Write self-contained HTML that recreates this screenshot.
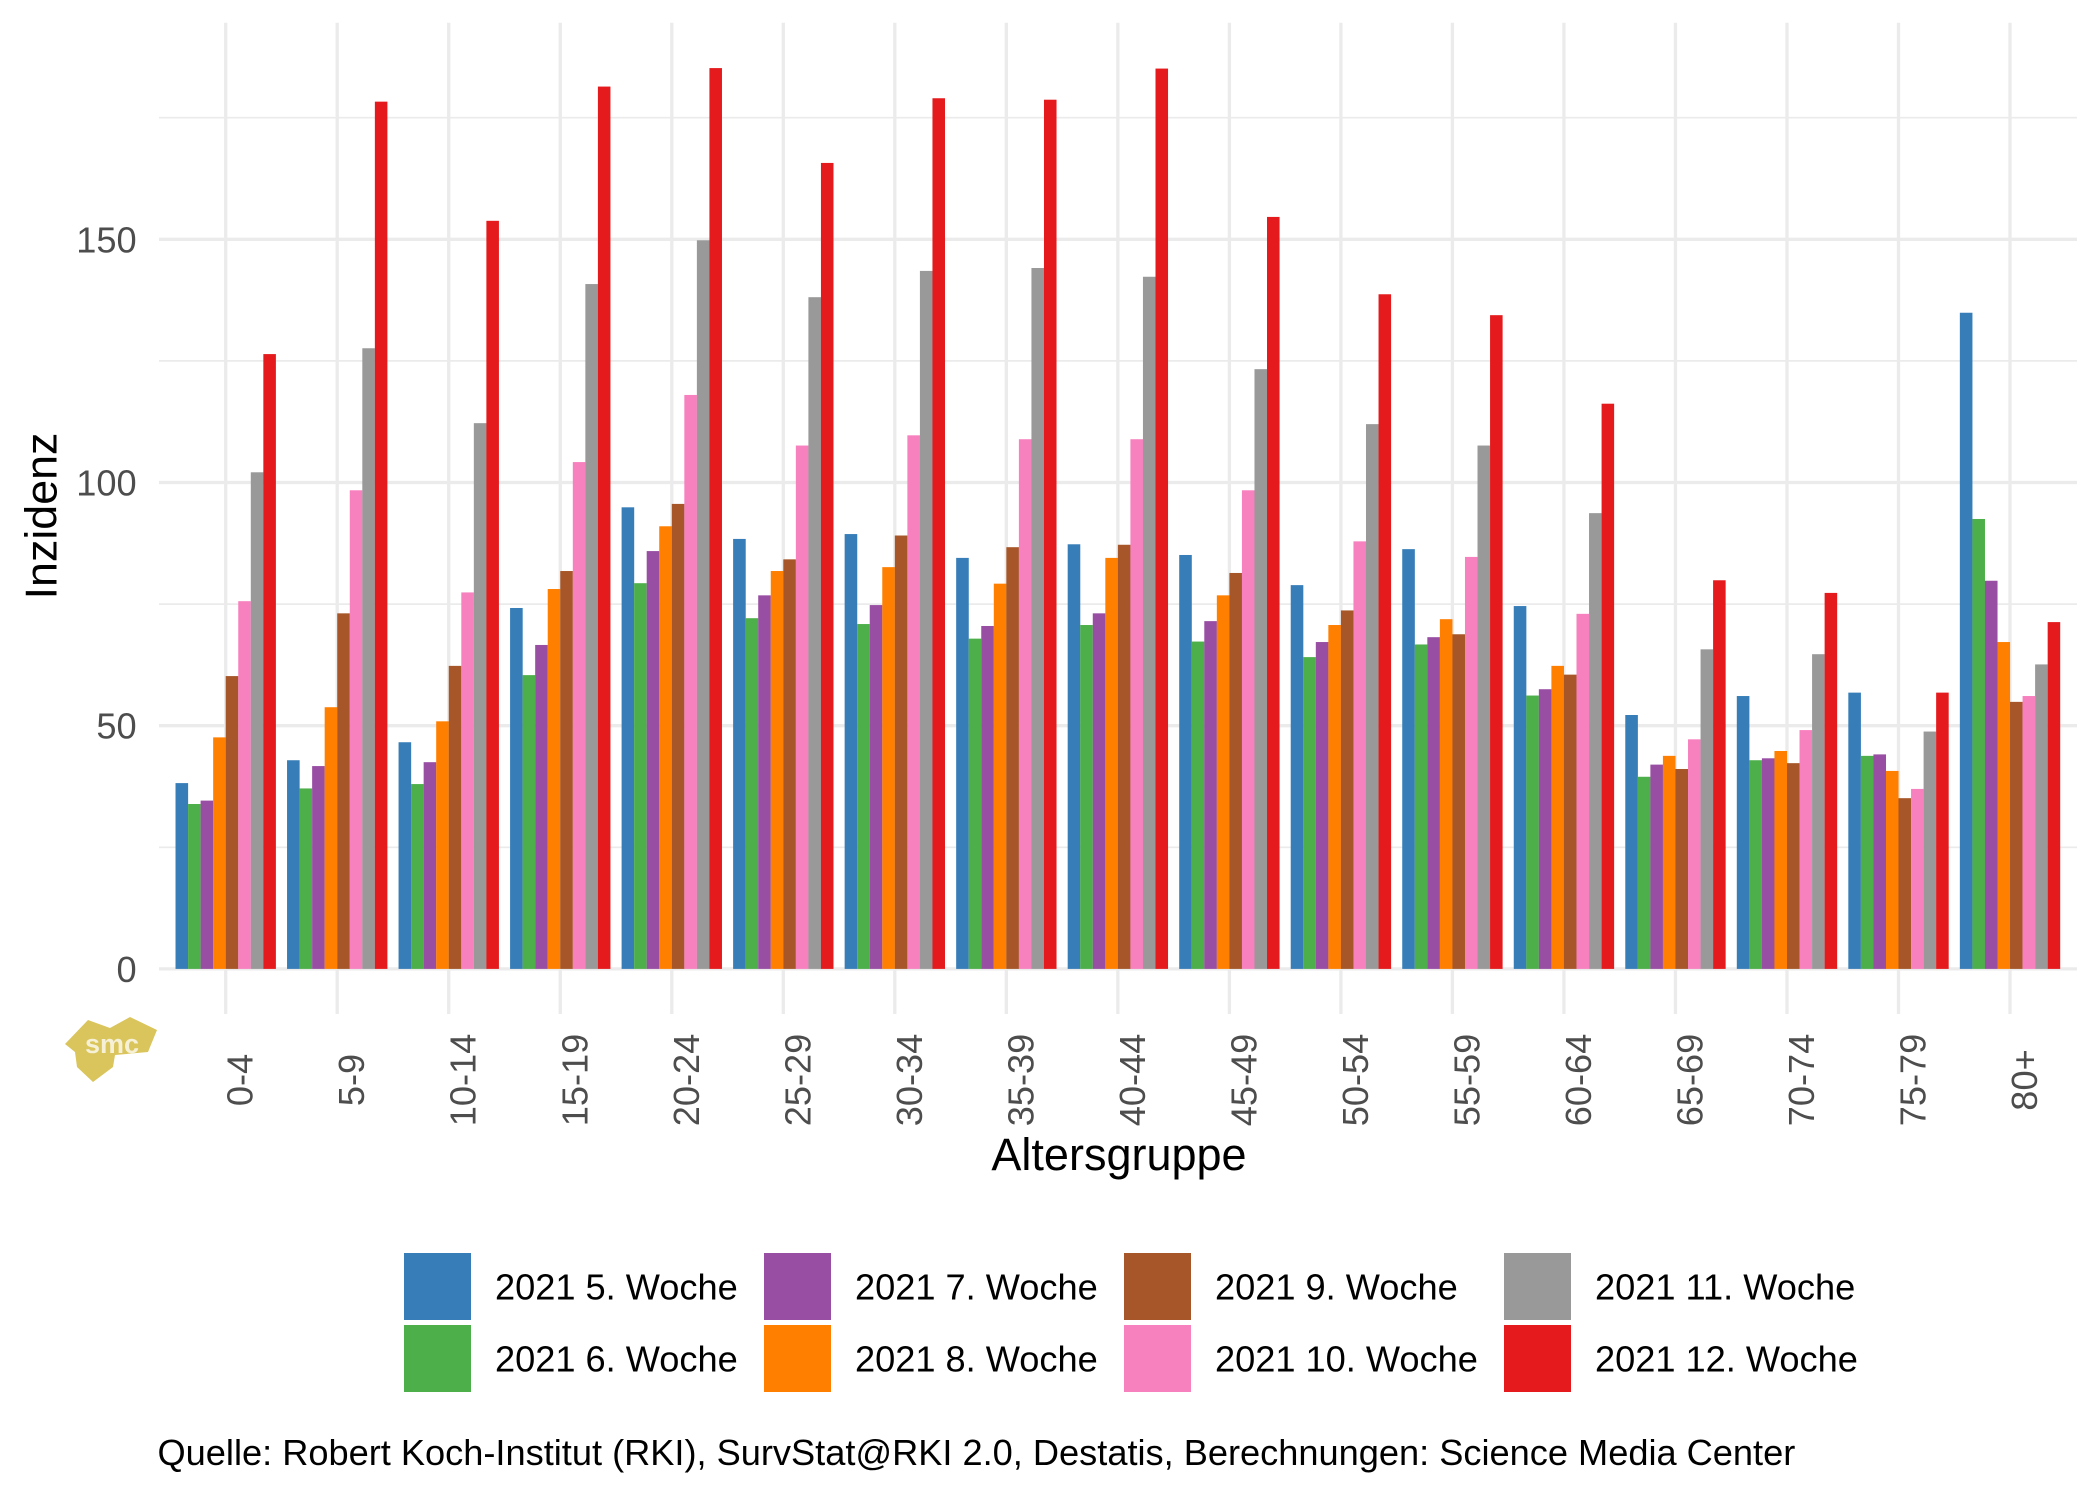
<!DOCTYPE html>
<html>
<head>
<meta charset="utf-8">
<style>
html,body{margin:0;padding:0;background:#fff;}
svg{display:block;}
text{font-family:"Liberation Sans",Arial,sans-serif;}
</style>
</head>
<body>
<svg width="2100" height="1499" viewBox="0 0 2100 1499" xmlns="http://www.w3.org/2000/svg">
<rect x="0" y="0" width="2100" height="1499" fill="#ffffff"/>
<!-- minor gridlines -->
<g stroke="#EBEBEB" stroke-width="1.7">
<line x1="159" x2="2077" y1="847.3" y2="847.3"/>
<line x1="159" x2="2077" y1="604.1" y2="604.1"/>
<line x1="159" x2="2077" y1="360.9" y2="360.9"/>
<line x1="159" x2="2077" y1="117.7" y2="117.7"/>
</g>
<!-- major gridlines -->
<g stroke="#EBEBEB" stroke-width="3.3">
<line x1="159" x2="2077" y1="968.9" y2="968.9"/>
<line x1="159" x2="2077" y1="725.7" y2="725.7"/>
<line x1="159" x2="2077" y1="482.5" y2="482.5"/>
<line x1="159" x2="2077" y1="239.3" y2="239.3"/>
<line x1="225.70" x2="225.70" y1="22.7" y2="1014"/>
<line x1="337.22" x2="337.22" y1="22.7" y2="1014"/>
<line x1="448.74" x2="448.74" y1="22.7" y2="1014"/>
<line x1="560.26" x2="560.26" y1="22.7" y2="1014"/>
<line x1="671.78" x2="671.78" y1="22.7" y2="1014"/>
<line x1="783.30" x2="783.30" y1="22.7" y2="1014"/>
<line x1="894.82" x2="894.82" y1="22.7" y2="1014"/>
<line x1="1006.34" x2="1006.34" y1="22.7" y2="1014"/>
<line x1="1117.86" x2="1117.86" y1="22.7" y2="1014"/>
<line x1="1229.38" x2="1229.38" y1="22.7" y2="1014"/>
<line x1="1340.90" x2="1340.90" y1="22.7" y2="1014"/>
<line x1="1452.42" x2="1452.42" y1="22.7" y2="1014"/>
<line x1="1563.94" x2="1563.94" y1="22.7" y2="1014"/>
<line x1="1675.46" x2="1675.46" y1="22.7" y2="1014"/>
<line x1="1786.98" x2="1786.98" y1="22.7" y2="1014"/>
<line x1="1898.50" x2="1898.50" y1="22.7" y2="1014"/>
<line x1="2010.02" x2="2010.02" y1="22.7" y2="1014"/>
</g>

<defs>
<style>
.b1{fill:#377EB8}.b2{fill:#4DAF4A}.b3{fill:#984EA3}.b4{fill:#FF7F00}
.b5{fill:#A65628}.b6{fill:#F781BF}.b7{fill:#999999}.b8{fill:#E41A1C}
</style>
</defs>

<g transform="translate(175.52,968.9) scale(1,-4.864)">
<rect class="b1" x="0" y="0" width="12.6" height="38.2"/>
<rect class="b2" x="12.546" y="0" width="12.6" height="33.9"/>
<rect class="b3" x="25.092" y="0" width="12.6" height="34.6"/>
<rect class="b4" x="37.638" y="0" width="12.6" height="47.6"/>
<rect class="b5" x="50.184" y="0" width="12.6" height="60.2"/>
<rect class="b6" x="62.73" y="0" width="12.6" height="75.6"/>
<rect class="b7" x="75.276" y="0" width="12.6" height="102.1"/>
<rect class="b8" x="87.822" y="0" width="12.546" height="126.4"/>
</g>
<g transform="translate(287.04,968.9) scale(1,-4.864)">
<rect class="b1" x="0" y="0" width="12.6" height="42.9"/>
<rect class="b2" x="12.546" y="0" width="12.6" height="37.1"/>
<rect class="b3" x="25.092" y="0" width="12.6" height="41.7"/>
<rect class="b4" x="37.638" y="0" width="12.6" height="53.8"/>
<rect class="b5" x="50.184" y="0" width="12.6" height="73.1"/>
<rect class="b6" x="62.73" y="0" width="12.6" height="98.4"/>
<rect class="b7" x="75.276" y="0" width="12.6" height="127.6"/>
<rect class="b8" x="87.822" y="0" width="12.546" height="178.3"/>
</g>
<g transform="translate(398.56,968.9) scale(1,-4.864)">
<rect class="b1" x="0" y="0" width="12.6" height="46.6"/>
<rect class="b2" x="12.546" y="0" width="12.6" height="38.0"/>
<rect class="b3" x="25.092" y="0" width="12.6" height="42.5"/>
<rect class="b4" x="37.638" y="0" width="12.6" height="50.9"/>
<rect class="b5" x="50.184" y="0" width="12.6" height="62.3"/>
<rect class="b6" x="62.73" y="0" width="12.6" height="77.4"/>
<rect class="b7" x="75.276" y="0" width="12.6" height="112.2"/>
<rect class="b8" x="87.822" y="0" width="12.546" height="153.8"/>
</g>
<g transform="translate(510.08,968.9) scale(1,-4.864)">
<rect class="b1" x="0" y="0" width="12.6" height="74.2"/>
<rect class="b2" x="12.546" y="0" width="12.6" height="60.4"/>
<rect class="b3" x="25.092" y="0" width="12.6" height="66.6"/>
<rect class="b4" x="37.638" y="0" width="12.6" height="78.1"/>
<rect class="b5" x="50.184" y="0" width="12.6" height="81.8"/>
<rect class="b6" x="62.73" y="0" width="12.6" height="104.2"/>
<rect class="b7" x="75.276" y="0" width="12.6" height="140.8"/>
<rect class="b8" x="87.822" y="0" width="12.546" height="181.4"/>
</g>
<g transform="translate(621.60,968.9) scale(1,-4.864)">
<rect class="b1" x="0" y="0" width="12.6" height="94.9"/>
<rect class="b2" x="12.546" y="0" width="12.6" height="79.3"/>
<rect class="b3" x="25.092" y="0" width="12.6" height="85.9"/>
<rect class="b4" x="37.638" y="0" width="12.6" height="91.0"/>
<rect class="b5" x="50.184" y="0" width="12.6" height="95.6"/>
<rect class="b6" x="62.73" y="0" width="12.6" height="118.0"/>
<rect class="b7" x="75.276" y="0" width="12.6" height="149.8"/>
<rect class="b8" x="87.822" y="0" width="12.546" height="185.2"/>
</g>
<g transform="translate(733.12,968.9) scale(1,-4.864)">
<rect class="b1" x="0" y="0" width="12.6" height="88.4"/>
<rect class="b2" x="12.546" y="0" width="12.6" height="72.1"/>
<rect class="b3" x="25.092" y="0" width="12.6" height="76.8"/>
<rect class="b4" x="37.638" y="0" width="12.6" height="81.8"/>
<rect class="b5" x="50.184" y="0" width="12.6" height="84.2"/>
<rect class="b6" x="62.73" y="0" width="12.6" height="107.6"/>
<rect class="b7" x="75.276" y="0" width="12.6" height="138.1"/>
<rect class="b8" x="87.822" y="0" width="12.546" height="165.7"/>
</g>
<g transform="translate(844.64,968.9) scale(1,-4.864)">
<rect class="b1" x="0" y="0" width="12.6" height="89.4"/>
<rect class="b2" x="12.546" y="0" width="12.6" height="70.9"/>
<rect class="b3" x="25.092" y="0" width="12.6" height="74.8"/>
<rect class="b4" x="37.638" y="0" width="12.6" height="82.6"/>
<rect class="b5" x="50.184" y="0" width="12.6" height="89.1"/>
<rect class="b6" x="62.73" y="0" width="12.6" height="109.7"/>
<rect class="b7" x="75.276" y="0" width="12.6" height="143.5"/>
<rect class="b8" x="87.822" y="0" width="12.546" height="179.0"/>
</g>
<g transform="translate(956.16,968.9) scale(1,-4.864)">
<rect class="b1" x="0" y="0" width="12.6" height="84.5"/>
<rect class="b2" x="12.546" y="0" width="12.6" height="67.9"/>
<rect class="b3" x="25.092" y="0" width="12.6" height="70.5"/>
<rect class="b4" x="37.638" y="0" width="12.6" height="79.2"/>
<rect class="b5" x="50.184" y="0" width="12.6" height="86.7"/>
<rect class="b6" x="62.73" y="0" width="12.6" height="108.9"/>
<rect class="b7" x="75.276" y="0" width="12.6" height="144.1"/>
<rect class="b8" x="87.822" y="0" width="12.546" height="178.7"/>
</g>
<g transform="translate(1067.68,968.9) scale(1,-4.864)">
<rect class="b1" x="0" y="0" width="12.6" height="87.3"/>
<rect class="b2" x="12.546" y="0" width="12.6" height="70.7"/>
<rect class="b3" x="25.092" y="0" width="12.6" height="73.1"/>
<rect class="b4" x="37.638" y="0" width="12.6" height="84.5"/>
<rect class="b5" x="50.184" y="0" width="12.6" height="87.2"/>
<rect class="b6" x="62.73" y="0" width="12.6" height="108.9"/>
<rect class="b7" x="75.276" y="0" width="12.6" height="142.3"/>
<rect class="b8" x="87.822" y="0" width="12.546" height="185.1"/>
</g>
<g transform="translate(1179.20,968.9) scale(1,-4.864)">
<rect class="b1" x="0" y="0" width="12.6" height="85.1"/>
<rect class="b2" x="12.546" y="0" width="12.6" height="67.3"/>
<rect class="b3" x="25.092" y="0" width="12.6" height="71.5"/>
<rect class="b4" x="37.638" y="0" width="12.6" height="76.8"/>
<rect class="b5" x="50.184" y="0" width="12.6" height="81.4"/>
<rect class="b6" x="62.73" y="0" width="12.6" height="98.4"/>
<rect class="b7" x="75.276" y="0" width="12.6" height="123.3"/>
<rect class="b8" x="87.822" y="0" width="12.546" height="154.6"/>
</g>
<g transform="translate(1290.72,968.9) scale(1,-4.864)">
<rect class="b1" x="0" y="0" width="12.6" height="78.9"/>
<rect class="b2" x="12.546" y="0" width="12.6" height="64.1"/>
<rect class="b3" x="25.092" y="0" width="12.6" height="67.2"/>
<rect class="b4" x="37.638" y="0" width="12.6" height="70.7"/>
<rect class="b5" x="50.184" y="0" width="12.6" height="73.7"/>
<rect class="b6" x="62.73" y="0" width="12.6" height="87.9"/>
<rect class="b7" x="75.276" y="0" width="12.6" height="112.0"/>
<rect class="b8" x="87.822" y="0" width="12.546" height="138.7"/>
</g>
<g transform="translate(1402.24,968.9) scale(1,-4.864)">
<rect class="b1" x="0" y="0" width="12.6" height="86.3"/>
<rect class="b2" x="12.546" y="0" width="12.6" height="66.7"/>
<rect class="b3" x="25.092" y="0" width="12.6" height="68.2"/>
<rect class="b4" x="37.638" y="0" width="12.6" height="71.9"/>
<rect class="b5" x="50.184" y="0" width="12.6" height="68.8"/>
<rect class="b6" x="62.73" y="0" width="12.6" height="84.7"/>
<rect class="b7" x="75.276" y="0" width="12.6" height="107.6"/>
<rect class="b8" x="87.822" y="0" width="12.546" height="134.4"/>
</g>
<g transform="translate(1513.76,968.9) scale(1,-4.864)">
<rect class="b1" x="0" y="0" width="12.6" height="74.6"/>
<rect class="b2" x="12.546" y="0" width="12.6" height="56.2"/>
<rect class="b3" x="25.092" y="0" width="12.6" height="57.5"/>
<rect class="b4" x="37.638" y="0" width="12.6" height="62.3"/>
<rect class="b5" x="50.184" y="0" width="12.6" height="60.5"/>
<rect class="b6" x="62.73" y="0" width="12.6" height="73.0"/>
<rect class="b7" x="75.276" y="0" width="12.6" height="93.7"/>
<rect class="b8" x="87.822" y="0" width="12.546" height="116.2"/>
</g>
<g transform="translate(1625.28,968.9) scale(1,-4.864)">
<rect class="b1" x="0" y="0" width="12.6" height="52.2"/>
<rect class="b2" x="12.546" y="0" width="12.6" height="39.5"/>
<rect class="b3" x="25.092" y="0" width="12.6" height="42.0"/>
<rect class="b4" x="37.638" y="0" width="12.6" height="43.8"/>
<rect class="b5" x="50.184" y="0" width="12.6" height="41.1"/>
<rect class="b6" x="62.73" y="0" width="12.6" height="47.2"/>
<rect class="b7" x="75.276" y="0" width="12.6" height="65.7"/>
<rect class="b8" x="87.822" y="0" width="12.546" height="79.9"/>
</g>
<g transform="translate(1736.80,968.9) scale(1,-4.864)">
<rect class="b1" x="0" y="0" width="12.6" height="56.1"/>
<rect class="b2" x="12.546" y="0" width="12.6" height="42.9"/>
<rect class="b3" x="25.092" y="0" width="12.6" height="43.3"/>
<rect class="b4" x="37.638" y="0" width="12.6" height="44.8"/>
<rect class="b5" x="50.184" y="0" width="12.6" height="42.3"/>
<rect class="b6" x="62.73" y="0" width="12.6" height="49.1"/>
<rect class="b7" x="75.276" y="0" width="12.6" height="64.7"/>
<rect class="b8" x="87.822" y="0" width="12.546" height="77.3"/>
</g>
<g transform="translate(1848.32,968.9) scale(1,-4.864)">
<rect class="b1" x="0" y="0" width="12.6" height="56.8"/>
<rect class="b2" x="12.546" y="0" width="12.6" height="43.8"/>
<rect class="b3" x="25.092" y="0" width="12.6" height="44.1"/>
<rect class="b4" x="37.638" y="0" width="12.6" height="40.7"/>
<rect class="b5" x="50.184" y="0" width="12.6" height="35.1"/>
<rect class="b6" x="62.73" y="0" width="12.6" height="37.0"/>
<rect class="b7" x="75.276" y="0" width="12.6" height="48.8"/>
<rect class="b8" x="87.822" y="0" width="12.546" height="56.8"/>
</g>
<g transform="translate(1959.84,968.9) scale(1,-4.864)">
<rect class="b1" x="0" y="0" width="12.6" height="134.9"/>
<rect class="b2" x="12.546" y="0" width="12.6" height="92.5"/>
<rect class="b3" x="25.092" y="0" width="12.6" height="79.8"/>
<rect class="b4" x="37.638" y="0" width="12.6" height="67.2"/>
<rect class="b5" x="50.184" y="0" width="12.6" height="54.9"/>
<rect class="b6" x="62.73" y="0" width="12.6" height="56.1"/>
<rect class="b7" x="75.276" y="0" width="12.6" height="62.6"/>
<rect class="b8" x="87.822" y="0" width="12.546" height="71.3"/>
</g>

<!-- y axis labels -->
<g fill="#4D4D4D" font-size="36.2" text-anchor="end">
<text x="136.7" y="981.9">0</text>
<text x="136.7" y="738.7">50</text>
<text x="136.7" y="495.5">100</text>
<text x="136.7" y="252.3">150</text>
</g>

<!-- x axis labels (rotated) -->
<g fill="#4D4D4D" font-size="36.2" text-anchor="middle">
<text transform="translate(252.7,1080) rotate(-90)">0-4</text>
<text transform="translate(364.2,1080) rotate(-90)">5-9</text>
<text transform="translate(475.7,1080) rotate(-90)">10-14</text>
<text transform="translate(587.3,1080) rotate(-90)">15-19</text>
<text transform="translate(698.8,1080) rotate(-90)">20-24</text>
<text transform="translate(810.3,1080) rotate(-90)">25-29</text>
<text transform="translate(921.8,1080) rotate(-90)">30-34</text>
<text transform="translate(1033.3,1080) rotate(-90)">35-39</text>
<text transform="translate(1144.9,1080) rotate(-90)">40-44</text>
<text transform="translate(1256.4,1080) rotate(-90)">45-49</text>
<text transform="translate(1367.9,1080) rotate(-90)">50-54</text>
<text transform="translate(1479.4,1080) rotate(-90)">55-59</text>
<text transform="translate(1590.9,1080) rotate(-90)">60-64</text>
<text transform="translate(1702.5,1080) rotate(-90)">65-69</text>
<text transform="translate(1814.0,1080) rotate(-90)">70-74</text>
<text transform="translate(1925.5,1080) rotate(-90)">75-79</text>
<text transform="translate(2037.0,1080) rotate(-90)">80+</text>
</g>

<!-- axis titles -->
<text transform="translate(56.7,516) rotate(-90)" font-size="44.8" fill="#000" text-anchor="middle">Inzidenz</text>
<text x="1119" y="1170" font-size="45" fill="#000" text-anchor="middle">Altersgruppe</text>

<!-- smc logo -->
<g>
<polygon points="65,1044 88,1020 110,1028 130,1017 157,1030 148,1052 115,1055 113,1067 93,1082 77,1067 75,1052" fill="#D9C55B"/>
<text x="112" y="1053" font-size="27" font-weight="bold" fill="#ffffff" fill-opacity="0.75" text-anchor="middle">smc</text>
</g>

<!-- legend -->
<rect x="404" y="1253" width="67" height="67" fill="#377EB8"/>
<rect x="404" y="1325" width="67" height="67" fill="#4DAF4A"/>
<rect x="764" y="1253" width="67" height="67" fill="#984EA3"/>
<rect x="764" y="1325" width="67" height="67" fill="#FF7F00"/>
<rect x="1124" y="1253" width="67" height="67" fill="#A65628"/>
<rect x="1124" y="1325" width="67" height="67" fill="#F781BF"/>
<rect x="1504" y="1253" width="67" height="67" fill="#999999"/>
<rect x="1504" y="1325" width="67" height="67" fill="#E41A1C"/>
<g font-size="36.2" fill="#000">
<text x="495" y="1299.3">2021 5. Woche</text>
<text x="495" y="1371.7">2021 6. Woche</text>
<text x="855" y="1299.3">2021 7. Woche</text>
<text x="855" y="1371.7">2021 8. Woche</text>
<text x="1215" y="1299.3">2021 9. Woche</text>
<text x="1215" y="1371.7">2021 10. Woche</text>
<text x="1595" y="1299.3">2021 11. Woche</text>
<text x="1595" y="1371.7">2021 12. Woche</text>
</g>

<!-- caption -->
<text x="157.5" y="1465" font-size="36.2" fill="#000">Quelle: Robert Koch-Institut (RKI), SurvStat@RKI 2.0, Destatis, Berechnungen: Science Media Center</text>
</svg>
</body>
</html>
